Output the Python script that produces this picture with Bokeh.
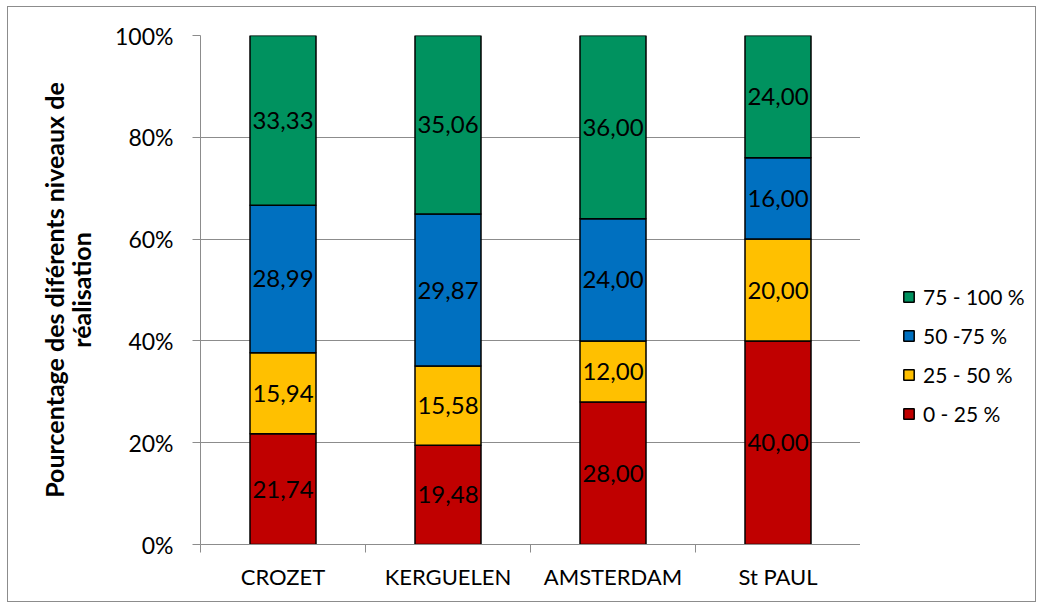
from bokeh.plotting import figure
from bokeh.layouts import row
from bokeh.models import ColumnDataSource, FixedTicker, Legend, LegendItem, CustomJSTickFormatter
from bokeh.core.properties import value
from bokeh.embed import file_html
from bokeh.resources import INLINE

categories = ["CROZET", "KERGUELEN", "AMSTERDAM", "St PAUL"]
series_names = ["0 - 25 %", "25 - 50 %", "50 -75 %", "75 - 100 %"]
s0_25 = [21.74, 19.48, 28.00, 40.00]
s25_50 = [15.94, 15.58, 12.00, 20.00]
s50_75 = [28.99, 29.87, 24.00, 16.00]
s75_100 = [33.33, 35.06, 36.00, 24.00]
colors = ["#C00000", "#FFC000", "#0070C0", "#00925F"]
y_ticks = [0, 20, 40, 60, 80, 100]

FONT = "Lato"
series = [s0_25, s25_50, s50_75, s75_100]
xs = [i + 0.5 for i in range(len(categories))]

H = 594
p = figure(width=852, height=H, x_range=(0, len(categories)), y_range=(0, 100),
           output_backend="svg", toolbar_location=None,
           min_border_left=192, min_border_right=0, min_border_top=28, min_border_bottom=57)
p.outline_line_color = None
p.background_fill_color = "white"
p.border_fill_color = "white"

bottom = [0.0] * len(categories)
for name, vals, col in zip(series_names, series, colors):
    top = [b + v for b, v in zip(bottom, vals)]
    src = ColumnDataSource(dict(x=xs, bottom=bottom, top=top,
                                mid=[(b + t) / 2 for b, t in zip(bottom, top)],
                                lab=[f"{v:.2f}".replace(".", ",") for v in vals]))
    p.vbar(x="x", bottom="bottom", top="top", width=0.4, source=src,
           fill_color=col, line_color="black", line_width=1.5)
    p.text(x="x", y="mid", text="lab", source=src, text_align="center",
           text_baseline="middle", text_font=value(FONT), text_font_size="24px",
           text_color="black")
    bottom = top

# axes
p.xgrid.grid_line_color = None
p.ygrid.grid_line_color = "#8c8c8c"
p.ygrid.ticker = FixedTicker(ticks=y_ticks)

p.yaxis.ticker = FixedTicker(ticks=y_ticks)
p.yaxis.formatter = CustomJSTickFormatter(code="return tick.toFixed(0) + '%';")
p.yaxis.axis_line_color = "#8c8c8c"
p.yaxis.major_tick_line_color = "#8c8c8c"
p.yaxis.major_tick_out = 8
p.yaxis.major_tick_in = 0
p.yaxis.minor_tick_line_color = None
p.yaxis.major_label_standoff = 19
p.yaxis.major_label_text_font = FONT
p.yaxis.major_label_text_font_size = "23px"
p.yaxis.major_label_text_color = "black"
p.yaxis.axis_label = "Pourcentage des diférents niveaux de\nréalisation"
p.yaxis.axis_label_text_font = FONT
p.yaxis.axis_label_text_font_size = "25px"
p.yaxis.axis_label_text_font_style = "bold"
p.yaxis.axis_label_text_color = "black"
p.yaxis.axis_label_text_line_height = 0.9
p.yaxis.axis_label_standoff = 16

p.xaxis.ticker = FixedTicker(ticks=xs, minor_ticks=list(range(len(categories) + 1)))
p.xaxis.major_label_overrides = {x: c for x, c in zip(xs, categories)}
p.xaxis.axis_line_color = "#8c8c8c"
p.xaxis.major_tick_line_color = None
p.xaxis.minor_tick_line_color = "#8c8c8c"
p.xaxis.minor_tick_out = 8
p.xaxis.minor_tick_in = 0
p.xaxis.major_label_standoff = 10
p.xaxis.major_label_text_font = FONT
p.xaxis.major_label_text_font_size = "22px"
p.xaxis.major_label_text_color = "black"

# legend panel (second figure sharing the same vertical frame)
pl = figure(width=175, height=H, x_range=(0, 1), y_range=(0, 1),
            output_backend="svg", toolbar_location=None,
            min_border_left=0, min_border_right=0, min_border_top=28, min_border_bottom=57)
pl.axis.visible = False
pl.grid.grid_line_color = None
pl.outline_line_color = None
pl.border_fill_color = "white"
items = []
for name, col in reversed(list(zip(series_names, colors))):
    # dummy glyph with no drawable position; only carries the legend style
    r = pl.vbar(x=[float("nan")], top=[float("nan")], width=0.4,
                fill_color=col, line_color="black", line_width=1.5)
    items.append(LegendItem(label=name, renderers=[r]))
legend = Legend(items=items, location=(42, 118), orientation="vertical",
                glyph_width=13, glyph_height=13, label_height=20, spacing=14,
                label_standoff=8, padding=0, margin=0,
                label_text_font=FONT, label_text_font_size="21px",
                label_text_color="black", border_line_color=None,
                background_fill_alpha=0)
pl.add_layout(legend, "center")

layout = row(p, pl, spacing=0,
             styles={"border": "1px solid #8c8c8c", "margin-left": "7px", "margin-top": "6px"})

open("out.html", "w").write(file_html(layout, INLINE))
